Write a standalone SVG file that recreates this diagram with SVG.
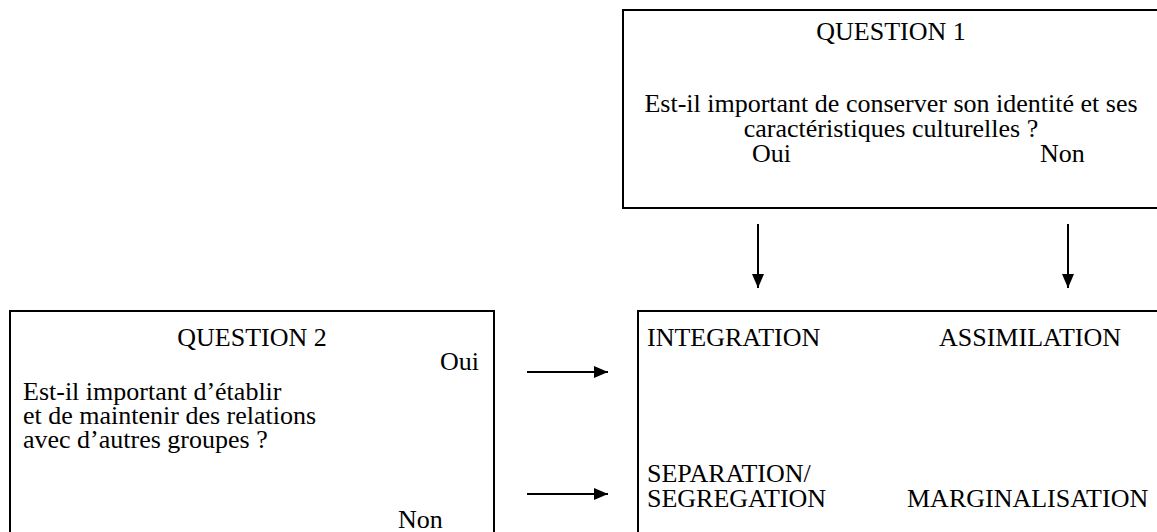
<svg xmlns="http://www.w3.org/2000/svg" width="1157" height="532" viewBox="0 0 1157 532">
<style>
text{font-family:"Liberation Serif","Times New Roman",serif;font-size:26px;fill:#000}
.box{fill:#fff;stroke:#000;stroke-width:2}
.c{stroke:#000;stroke-width:2;fill:none}
.mid{text-anchor:middle}
</style>
<defs>
<marker id="ah" viewBox="0 0 14 12" refX="14" refY="6" markerWidth="14" markerHeight="12" markerUnits="userSpaceOnUse" orient="auto">
<path d="M0,0 L14,6 L0,12 z" fill="#000"/>
</marker>
</defs>
<rect width="1157" height="532" fill="#fff"/>
<g id="question1">
<rect class="box" x="623" y="10" width="545" height="198"/>
<text class="mid" x="891" y="40">QUESTION 1</text>
<text class="mid"><tspan x="891" y="112">Est-il important de conserver son identité et ses</tspan><tspan x="891" dy="25">caractéristiques culturelles ?</tspan></text>
<text x="752" y="162">Oui</text>
<text x="1040" y="162">Non</text>
</g>
<g id="results">
<rect class="box" x="638" y="311" width="530" height="240"/>
<text x="647" y="346">INTEGRATION</text>
<text x="939" y="346">ASSIMILATION</text>
<text><tspan x="647" y="482">SEPARATION/</tspan><tspan x="647" dy="25">SEGREGATION</tspan></text>
<text x="907" y="507">MARGINALISATION</text>
</g>
<g id="question2">
<rect class="box" x="10" y="311" width="484" height="240"/>
<text class="mid" x="252" y="346">QUESTION 2</text>
<text x="440" y="370">Oui</text>
<text><tspan x="23" y="400">Est-il important d’établir</tspan><tspan x="23" dy="24">et de maintenir des relations</tspan><tspan x="23" dy="24">avec d’autres groupes ?</tspan></text>
<text x="398" y="528">Non</text>
</g>
<g id="connectors">
<line class="c" x1="758" y1="224" x2="758" y2="288" marker-end="url(#ah)"/>
<line class="c" x1="1068" y1="224" x2="1068" y2="288" marker-end="url(#ah)"/>
<line class="c" x1="527" y1="372" x2="608" y2="372" marker-end="url(#ah)"/>
<line class="c" x1="527" y1="494" x2="608" y2="494" marker-end="url(#ah)"/>
</g>
</svg>
